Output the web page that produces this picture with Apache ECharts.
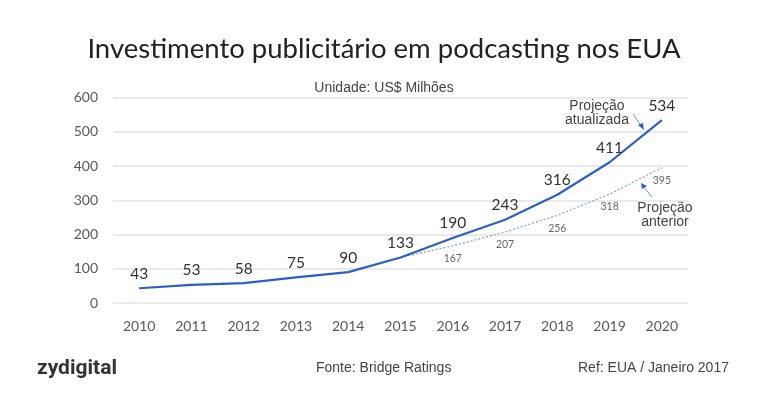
<!DOCTYPE html>
<html><head><meta charset="utf-8">
<script src="https://cdn.jsdelivr.net/npm/echarts@6/dist/echarts.min.js"></script>
<style>html,body{margin:0;padding:0;background:#fff}#c{width:768px;height:400px}</style>
</head><body><div id="c"></div>
<script>
const years = ['2010','2011','2012','2013','2014','2015','2016','2017','2018','2019','2020'];
const updated = [43,53,58,75,90,133,190,243,316,411,534];
const previous = [null,null,null,null,null,133,167,207,256,318,395];
const yTicks = [0,100,200,300,400,500,600];

const F = 'Lato, "Noto Sans", sans-serif';
const A = '"Liberation Sans", Arial, sans-serif';
const chart = echarts.init(document.getElementById('c'));
chart.setOption({
  backgroundColor:'#fff',
  animation:false,
  title:[
    {text:'Investimento publicitário em podcasting nos EUA', left:'center', top:30,
     textStyle:{fontFamily:F, fontSize:27.5, fontWeight:'normal', color:'#222'}},
    {text:'Unidade: US$ Milhões', left:'center', top:76,
     textStyle:{fontFamily:A, fontSize:14, fontWeight:'normal', color:'#444'}}
  ],
  grid:{left:113, right:80, top:97.5, bottom:97},
  xAxis:{type:'category', data:years, boundaryGap:true,
    axisLine:{show:false}, axisTick:{show:false},
    axisLabel:{color:'#595959', fontFamily:F, fontSize:14, margin:16}},
  yAxis:{type:'value', min:0, max:600, interval:100,
    axisLine:{show:false}, axisTick:{show:false},
    splitLine:{lineStyle:{color:'#e3e3e3', width:1.5}},
    axisLabel:{color:'#595959', fontFamily:F, fontSize:14, margin:15,
      formatter:v=>yTicks.includes(v)?String(v):''}},
  series:[
    {name:'anterior', type:'line',
     data:previous.map((v,i)=>i===5?{value:v,label:{show:false}}:v),
     symbol:'circle', symbolSize:1, showSymbol:true, itemStyle:{color:'rgba(0,0,0,0)'},
     lineStyle:{color:'#7c9ee3', width:1.2, type:[2,2]},
     label:{show:true, position:'bottom', distance:7, color:'#666', fontFamily:F, fontSize:10.5}},
    {name:'atualizada', type:'line', data:updated,
     symbol:'circle', symbolSize:1, showSymbol:true, itemStyle:{color:'rgba(0,0,0,0)'},
     lineStyle:{color:'#2c5ec6', width:2.2},
     label:{show:true, position:'top', distance:6, color:'#333', fontFamily:F, fontSize:15.5}}
  ],
  graphic:[
    {type:'text', style:{x:597, y:99, text:'Projeção\natualizada', fill:'#444', font:'14px '+A, textAlign:'center', lineHeight:14}},
    {type:'text', style:{x:665, y:201, text:'Projeção\nanterior', fill:'#444', font:'14px '+A, textAlign:'center', lineHeight:14}},
    {type:'line', shape:{x1:633,y1:114,x2:642,y2:127}, style:{stroke:'#6f93dc', lineWidth:1}},
    {type:'polygon', shape:{points:[[644,130],[638,125],[643,123]]}, style:{fill:'#2c5ec6'}},
    {type:'line', shape:{x1:652,y1:197,x2:643,y2:186}, style:{stroke:'#6f93dc', lineWidth:1}},
    {type:'polygon', shape:{points:[[641,183],[647,186],[642,189]]}, style:{fill:'#2c5ec6'}},
    {type:'text', left:37, top:358, style:{text:'zydigital', fill:'#333', font:'bold 21px Roboto, "Liberation Sans", sans-serif'}},
    {type:'text', left:316, top:361, style:{text:'Fonte: Bridge Ratings', fill:'#444', font:'14px '+A}},
    {type:'text', left:578, top:361, style:{text:'Ref: EUA / Janeiro 2017', fill:'#444', font:'14px '+A}}
  ]
});
</script></body></html>
